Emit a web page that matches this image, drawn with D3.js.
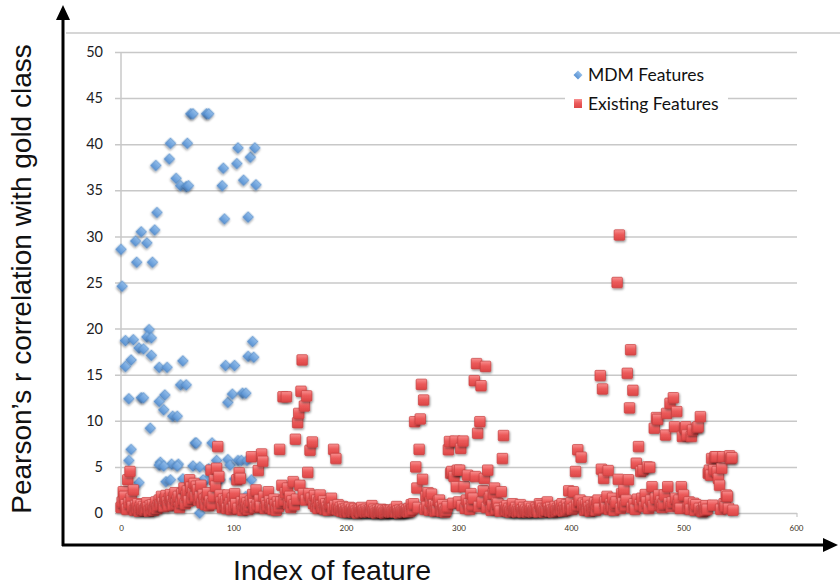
<!DOCTYPE html>
<html>
<head>
<meta charset="utf-8">
<script src="https://cdn.jsdelivr.net/npm/d3@7"></script>
<style>
  body { margin: 0; background: #fff; }
  svg { display: block; }
</style>
</head>
<body>
<div id="chart"></div>
<script>
// Blue series: MDM features (index, value)
const mdmIndex = [
  0, 13, 18, 23, 30, 32, 31, 43, 44, 49, 53, 58, 60, 59, 62, 64, 76, 78, 91, 90, 92, 103, 104, 109, 115, 113, 119, 120,
  14, 28, 1, 25, 23, 27, 4, 11, 16, 20, 27, 9, 4, 34, 41, 55, 93, 101, 117, 113, 118, 53, 58,
  7, 18, 20, 39, 34, 38, 46, 50, 26, 95, 99, 108, 111,
  9, 7, 66, 67, 81, 35, 34, 45, 51, 64, 70, 85, 95, 97, 104, 107, 112, 78, 38, 50,
  40, 44, 16, 55, 76, 88, 116, 73, 101, 111, 70
];
const mdmValue = [
  28.6, 29.5, 30.5, 29.3, 30.7, 32.6, 37.7, 38.4, 40.1, 36.3, 35.5, 35.4, 35.5, 40.1, 43.3, 43.3, 43.3, 43.3, 37.4, 35.5, 31.9, 37.9, 39.6, 36.1, 38.6, 32.1, 39.6, 35.6,
  27.2, 27.2, 24.6, 19.9, 19.1, 19.0, 18.7, 18.8, 17.9, 17.8, 17.1, 16.6, 15.9, 15.8, 15.8, 16.5, 16.0, 16.0, 18.6, 17.0, 16.9, 13.9, 13.9,
  12.4, 12.5, 12.5, 12.8, 12.1, 11.2, 10.5, 10.5, 9.2, 12.0, 12.9, 13.0, 13.0,
  6.9, 5.7, 7.6, 7.6, 7.6, 5.5, 5.2, 5.3, 5.3, 5.1, 5.0, 5.7, 5.8, 5.2, 5.7, 5.7, 5.7, 4.8, 5.1, 5.1,
  3.4, 3.6, 3.3, 3.7, 3.6, 3.6, 3.6, 3.6, 3.7, 1.8, 0.0
];

// Red series: existing features, value per feature index (0..544)
const existingValues = [
  0.6, 1.2, 2.3, 1.8, 0.9, 0.4, 3.6, 1.1, 4.5, 1.6, 0.7, 2.5, 0.3, 0.8, 0.5, 1.0, 0.2, 0.6, 0.9, 0.4,
  0.7, 0.3, 0.5, 1.1, 0.6, 0.2, 0.8, 0.4, 0.9, 0.3, 0.6, 1.2, 0.5, 0.8, 1.4, 0.9, 1.8, 1.1, 0.7, 1.5,
  1.9, 1.2, 0.8, 1.6, 2.0, 1.3, 0.9, 1.7, 2.2, 1.0, 1.4, 1.8, 0.6, 1.2, 2.1, 1.5, 2.7, 1.0, 1.9, 2.4,
  1.3, 3.6, 2.8, 1.6, 2.2, 3.2, 1.8, 2.9, 2.5, 1.4, 1.8, 3.0, 1.1, 2.0, 1.5, 0.9, 1.7, 2.2, 0.8, 1.3,
  4.65, 1.0, 1.8, 3.6, 2.9, 4.85, 7.2, 3.95, 1.95, 1.2, 0.6, 1.5, 0.9, 1.3, 0.5, 1.95, 0.8, 1.1, 0.4, 1.6,
  0.7, 2.1, 1.0, 3.6, 0.5, 4.35, 3.75, 1.2, 0.3, 0.9, 1.5, 0.6, 1.1, 0.4, 0.8, 1.3, 6.1, 2.0, 1.0, 0.6,
  2.5, 0.9, 4.6, 1.4, 0.7, 6.4, 5.6, 1.8, 0.5, 1.1, 0.8, 2.3, 1.3, 0.6, 1.0, 0.4, 1.5, 0.9, 0.3, 1.2,
  0.7, 6.9, 1.2, 3.0, 12.6, 1.4, 2.2, 12.6, 2.7, 1.0, 1.8, 0.6, 1.3, 3.4, 0.9, 8.0, 1.5, 9.8, 10.8, 3.0,
  13.2, 16.6, 2.1, 11.6, 1.4, 12.7, 4.4, 2.1, 6.8, 1.6, 7.7, 1.0, 1.9, 0.7, 1.4, 0.5, 1.2, 1.95, 0.8, 0.6,
  1.3, 0.4, 1.0, 0.6, 0.3, 0.9, 1.1, 1.6, 0.5, 6.9, 0.8, 5.9, 0.4, 0.9, 0.3, 0.6, 0.2, 0.7, 0.4, 0.1,
  0.5, 0.3, 0.1, 0.6, 0.2, 0.4, 0.1, 0.3, 0.5, 0.2, 0.0, 0.4, 0.3, 0.1, 0.6, 0.2, 0.3, 0.1, 0.4, 0.2,
  0.1, 0.3, 0.2, 0.8, 0.1, 0.4, 0.2, 0.0, 0.3, 0.1, 0.2, 0.4, 0.1, 0.3, 0.0, 0.2, 0.1, 0.3, 0.2, 0.1,
  0.3, 0.1, 0.2, 0.4, 0.1, 0.7, 0.2, 0.0, 0.3, 0.1, 0.2, 0.1, 0.4, 0.2, 0.3, 0.1, 0.5, 0.2, 0.9, 0.4,
  1.0, 9.9, 5.0, 2.7, 0.6, 6.9, 10.2, 13.95, 3.65, 12.25, 0.4, 1.8, 0.7, 2.2, 0.3, 1.2, 2.05, 0.5, 0.9, 0.2,
  0.8, 0.3, 1.3, 1.4, 0.6, 0.2, 0.9, 0.4, 0.1, 0.3, 0.7, 6.85, 7.75, 4.3, 4.5, 1.05, 3.95, 7.8, 2.85, 4.65,
  1.2, 4.65, 7.0, 0.8, 7.8, 2.85, 0.5, 1.4, 4.1, 1.0, 0.4, 2.1, 0.9, 1.6, 14.35, 3.95, 16.2, 8.65, 0.7, 9.9,
  13.8, 1.2, 2.4, 3.75, 15.9, 0.6, 4.65, 1.5, 1.8, 0.3, 0.9, 2.1, 2.7, 0.4, 1.1, 1.05, 0.5, 0.2, 2.3, 5.9,
  8.4, 0.6, 0.3, 0.8, 0.2, 0.5, 0.1, 0.4, 1.0, 0.2, 0.3, 0.6, 0.1, 0.4, 0.2, 0.9, 0.3, 0.1, 0.6, 0.2,
  0.4, 0.1, 0.3, 0.7, 0.2, 0.5, 0.1, 0.3, 0.2, 0.6, 0.4, 0.1, 1.0, 0.8, 0.2, 0.5, 0.1, 0.4, 0.3, 1.2,
  0.5, 0.2, 0.6, 0.3, 0.1, 0.4, 0.7, 0.2, 0.5, 0.3, 0.8, 0.4, 1.0, 0.2, 0.6, 0.3, 0.9, 0.5, 2.4, 0.7,
  1.1, 0.4, 2.3, 0.6, 4.5, 0.9, 6.85, 1.3, 1.4, 6.05, 0.8, 1.05, 0.3, 0.9, 0.4, 1.2, 0.6, 0.2, 0.8, 0.4,
  0.7, 1.1, 0.3, 0.9, 1.4, 0.5, 14.9, 4.75, 13.45, 3.75, 1.2, 0.6, 1.8, 4.6, 0.4, 1.0, 0.7, 1.6, 0.3, 0.9,
  1.2, 25.0, 3.65, 30.15, 0.5, 2.1, 1.1, 2.5, 0.8, 1.4, 15.15, 3.6, 11.4, 17.7, 0.6, 13.3, 1.0, 0.4, 5.4, 1.5,
  7.2, 0.9, 4.5, 1.6, 4.7, 0.7, 2.0, 1.2, 5.0, 0.5, 4.95, 1.4, 2.85, 0.8, 9.2, 1.6, 10.35, 10.15, 1.95, 0.9,
  1.3, 0.6, 1.0, 1.95, 8.45, 10.8, 2.85, 1.1, 11.9, 0.7, 1.2, 12.5, 9.35, 1.6, 11.0, 0.9, 1.4, 0.5, 2.85, 8.3,
  1.95, 9.2, 9.35, 8.45, 0.6, 1.2, 0.4, 8.3, 9.0, 1.05, 0.3, 0.9, 9.25, 9.35, 0.5, 10.45, 0.2, 0.15, 0.6, 0.3,
  0.8, 0.4, 4.3, 4.65, 4.1, 5.9, 0.85, 4.7, 6.1, 6.1, 4.5, 3.75, 3.0, 0.4, 4.85, 6.1, 1.0, 0.7, 1.95, 1.8,
  0.5, 6.2, 5.9, 6.0, 0.3
];

const yTicks = [0, 5, 10, 15, 20, 25, 30, 35, 40, 45, 50];
const xTicks = [0, 100, 200, 300, 400, 500, 600];
const seriesNames = ["MDM Features", "Existing Features"];

const width = 840;
const height = 587;

const svg = d3.select('#chart')
  .append('svg')
  .attr('width', width)
  .attr('height', height);

//Gradients and shadow for the Excel-like markers
const defs = svg.append('defs');
const redGrad = defs.append('linearGradient').attr('id', 'redGrad').attr('x1', 0).attr('y1', 0).attr('x2', 0).attr('y2', 1);
redGrad.append('stop').attr('offset', '0%').attr('stop-color', '#f89090');
redGrad.append('stop').attr('offset', '45%').attr('stop-color', '#ec5b5b');
redGrad.append('stop').attr('offset', '100%').attr('stop-color', '#dc4646');
const blueGrad = defs.append('linearGradient').attr('id', 'blueGrad').attr('x1', 0).attr('y1', 0).attr('x2', 0).attr('y2', 1);
blueGrad.append('stop').attr('offset', '0%').attr('stop-color', '#92bdea');
blueGrad.append('stop').attr('offset', '100%').attr('stop-color', '#5a93d3');
const shadow = defs.append('filter').attr('id', 'shadow')
  .attr('x', '-50%').attr('y', '-50%').attr('width', '200%').attr('height', '200%');
shadow.append('feDropShadow')
  .attr('dx', 0.8).attr('dy', 1.4).attr('stdDeviation', 0.9)
  .attr('flood-color', '#000').attr('flood-opacity', 0.45);

//Scales
const x = d3.scaleLinear().domain([0, 600]).range([121, 796]);
const y = d3.scaleLinear().domain([0, 50]).range([513, 52]);

//Top border of chart area
svg.append('line')
  .attr('x1', 66).attr('x2', width)
  .attr('y1', 33).attr('y2', 33)
  .attr('stroke', '#d6d6d6').attr('stroke-width', 2);

//Y axis with gridlines
const yAxis = svg.append('g')
  .attr('transform', 'translate(115,0)')
  .call(d3.axisLeft(y).tickValues(yTicks).tickSize(-(x(600) + 1 - 115)).tickPadding(12));
yAxis.select('.domain').remove();
yAxis.selectAll('.tick line').attr('stroke', '#c8c8c8').attr('stroke-width', 1.5);
yAxis.selectAll('.tick text')
  .attr('font-family', 'Lato, "Open Sans", sans-serif')
  .attr('font-size', 14.5)
  .attr('fill', '#1c1c24');

//Vertical value axis line
svg.append('line')
  .attr('x1', x(0)).attr('x2', x(0))
  .attr('y1', y(50)).attr('y2', y(0))
  .attr('stroke', '#c8c8c8').attr('stroke-width', 1.5);
//Small tick at right end of category axis
svg.append('line')
  .attr('x1', x(600) + 1).attr('x2', x(600) + 1)
  .attr('y1', y(0)).attr('y2', y(0) + 4)
  .attr('stroke', '#c8c8c8').attr('stroke-width', 1.2);

//X axis labels
const xAxis = svg.append('g')
  .attr('transform', `translate(0,${y(0)})`)
  .call(d3.axisBottom(x).tickValues(xTicks).tickSize(0).tickPadding(12));
xAxis.select('.domain').remove();
xAxis.selectAll('.tick text')
  .attr('font-family', 'Lato, "Open Sans", sans-serif')
  .attr('font-size', 8)
  .attr('fill', '#3a3020');

//Legend background
svg.append('rect')
  .attr('x', 565).attr('y', 62).attr('width', 163).attr('height', 58)
  .attr('fill', '#fff');

//Blue diamonds
const mdmData = mdmIndex.map((d, i) => ({ idx: d, val: mdmValue[i] }));
const diamond = d3.symbol().type(d3.symbolSquare).size(58);
svg.append('g')
  .selectAll('path')
  .data(mdmData)
  .join('path')
  .attr('d', diamond)
  .attr('transform', d => `translate(${x(d.idx)},${y(d.val)}) rotate(45)`)
  .attr('fill', 'url(#blueGrad)')
  .attr('stroke', '#4f86c6')
  .attr('stroke-width', 0.6)
  .attr('filter', 'url(#shadow)');

//Red squares
const sq = 10.5;
svg.append('g')
  .selectAll('rect')
  .data(existingValues)
  .join('rect')
  .attr('x', (d, i) => x(i) - sq / 2)
  .attr('y', d => y(d) - sq / 2)
  .attr('width', sq)
  .attr('height', sq)
  .attr('rx', 1)
  .attr('fill', 'url(#redGrad)')
  .attr('stroke', '#c94040')
  .attr('stroke-width', 0.7)
  .attr('filter', 'url(#shadow)');

//Legend
const legend = svg.append('g').attr('transform', 'translate(578,0)');
legend.append('path')
  .attr('d', d3.symbol().type(d3.symbolSquare).size(40))
  .attr('transform', 'translate(0,75) rotate(45)')
  .attr('fill', 'url(#blueGrad)');
legend.append('rect')
  .attr('x', -4).attr('y', 99).attr('width', 8).attr('height', 9)
  .attr('fill', 'url(#redGrad)');
legend.selectAll('text')
  .data(seriesNames)
  .join('text')
  .attr('x', 10)
  .attr('y', (d, i) => 81 + i * 29)
  .attr('font-family', 'Lato, "Open Sans", sans-serif')
  .attr('font-size', 17.5)
  .attr('fill', '#111')
  .text(d => d);

//Big black arrows
const arrows = svg.append('g');
arrows.append('line')
  .attr('x1', 63).attr('x2', 63).attr('y1', 546).attr('y2', 16)
  .attr('stroke', '#000').attr('stroke-width', 3);
arrows.append('path')
  .attr('d', 'M63,5 L56,20 L70,20 Z')
  .attr('fill', '#000');
arrows.append('line')
  .attr('x1', 62).attr('x2', 826).attr('y1', 545).attr('y2', 545)
  .attr('stroke', '#000').attr('stroke-width', 3);
arrows.append('path')
  .attr('d', 'M838,545 L823,538 L823,552 Z')
  .attr('fill', '#000');

//Axis titles
svg.append('text')
  .attr('transform', 'translate(31,279) rotate(-90)')
  .attr('text-anchor', 'middle')
  .attr('font-family', '"Liberation Sans", Arial, sans-serif')
  .attr('font-size', 28)
  .attr('fill', '#111')
  .text('Pearson\u2019s r correlation with gold class');

svg.append('text')
  .attr('x', 332)
  .attr('y', 580)
  .attr('text-anchor', 'middle')
  .attr('font-family', '"Liberation Sans", Arial, sans-serif')
  .attr('font-size', 28.5)
  .attr('fill', '#111')
  .text('Index of feature');
</script>
</body>
</html>
